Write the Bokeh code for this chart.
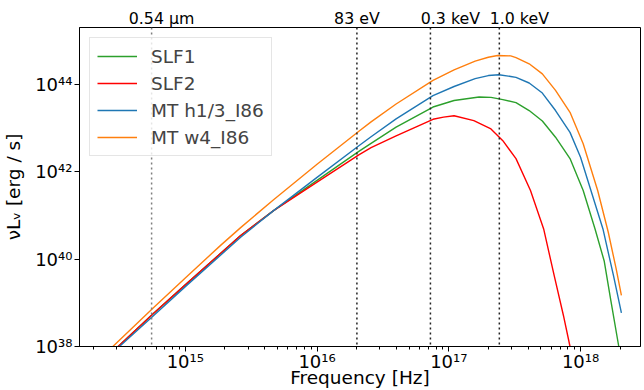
import numpy as np
from math import log10
from bokeh.plotting import figure
from bokeh.models import (FixedTicker, CustomJSTickFormatter, Span, LogAxis,
                          Legend, LegendItem, Range1d)
from bokeh.embed import file_html
from bokeh.resources import INLINE

# ---------------- data (log10 frequency [Hz], log10 nuL_nu [erg/s]) ----------------
lnu_slf1 = [14.30, 14.49, 14.76, 15.00, 15.42, 15.67, 16.00, 16.32, 16.41, 16.60,
            16.88, 17.04, 17.23, 17.32, 17.41, 17.51, 17.61, 17.71, 17.81, 17.92,
            18.02, 18.11, 18.18, 18.23, 18.29, 18.31]
lL_slf1 = [37.45, 38.00, 38.76, 39.41, 40.54, 41.11, 41.80, 42.47, 42.65, 43.02,
           43.48, 43.63, 43.71, 43.70, 43.65, 43.58, 43.40, 43.16, 42.79, 42.30,
           41.57, 40.69, 39.95, 39.05, 38.00, 37.70]

lnu_slf2 = [14.30, 14.49, 14.76, 15.00, 15.42, 15.67, 16.00, 16.32, 16.41, 16.60,
            16.88, 16.96, 17.04, 17.19, 17.32, 17.41, 17.51, 17.62, 17.72, 17.80,
            17.87, 17.92, 18.00]
lL_slf2 = [37.46, 38.00, 38.76, 39.41, 40.54, 41.11, 41.76, 42.39, 42.55, 42.82,
           43.20, 43.25, 43.28, 43.17, 42.98, 42.71, 42.30, 41.57, 40.69, 39.62,
           38.71, 38.00, 36.80]

lnu_h13 = [14.30, 14.50, 14.76, 15.00, 15.42, 15.67, 16.00, 16.32, 16.41, 16.60,
           16.88, 17.04, 17.20, 17.30, 17.38, 17.47, 17.51, 17.61, 17.71, 17.81,
           17.92, 18.00, 18.09, 18.17, 18.25, 18.31]
lL_h13 = [37.43, 38.00, 38.71, 39.37, 40.50, 41.11, 41.87, 42.60, 42.80, 43.21,
          43.74, 43.95, 44.13, 44.20, 44.22, 44.18, 44.16, 44.03, 43.80, 43.40,
          42.90, 42.33, 41.46, 40.69, 39.62, 38.77]

lnu_w4 = [14.30, 14.45, 14.76, 15.00, 15.27, 15.42, 15.67, 16.00, 16.32, 16.41,
          16.60, 16.88, 17.04, 17.20, 17.30, 17.37, 17.47, 17.51, 17.61, 17.71,
          17.81, 17.92, 18.02, 18.13, 18.21, 18.27, 18.31]
lL_w4 = [37.55, 38.00, 38.89, 39.57, 40.32, 40.72, 41.36, 42.17, 42.93, 43.14,
         43.55, 44.09, 44.33, 44.53, 44.62, 44.66, 44.65, 44.61, 44.47, 44.24,
         43.86, 43.36, 42.64, 41.57, 40.62, 39.78, 39.17]

series_names = ["SLF1", "SLF2", "MT h1/3_I86", "MT w4_I86"]
series_colors = ["#2ca02c", "#ff0000", "#1f77b4", "#ff7f0e"]
series_x = [lnu_slf1, lnu_slf2, lnu_h13, lnu_w4]
series_y = [lL_slf1, lL_slf2, lL_h13, lL_w4]

# reference frequencies (Hz) and their labels
line_freqs = [5.55e14, 2.007e16, 7.254e16, 2.418e17]
line_labels = ["0.54 \u03bcm", "83 eV", "0.3 keV", "1.0 keV"]
line_colors = ["#7f7f7f", "#222222", "#222222", "#222222"]
label_center_dx = [10, 0, 20, 20]   # px shift of each top label's centre from its line

x_ticks = [1e15, 1e16, 1e17, 1e18]
y_ticks = [1e38, 1e40, 1e42, 1e44]

# ---------------- layout ----------------
W, H = 644, 390
FL, FR, FT, FB = 79, 640, 27, 346
x_lo, x_hi = 14.197, 18.455
y_lo, y_hi = 38.0, 45.30
FONT = "DejaVu Sans"


def px_of(f):
    return FL + (log10(f) - x_lo) / (x_hi - x_lo) * (FR - FL)


def sx(X):
    return 10 ** (x_lo + (X - FL) / (FR - FL) * (x_hi - x_lo))


p = figure(width=W, height=H, x_axis_type="log", y_axis_type="log",
           x_range=Range1d(10 ** x_lo, 10 ** x_hi),
           y_range=Range1d(10 ** y_lo, 10 ** y_hi),
           output_backend="svg", toolbar_location=None,
           min_border_left=FL, min_border_right=W - FR,
           min_border_top=FT, min_border_bottom=H - FB)

p.background_fill_color = "white"
p.border_fill_color = "white"
p.xgrid.visible = False
p.ygrid.visible = False
p.outline_line_color = "black"
p.outline_line_width = 1
p.outline_line_alpha = 1

sup_fmt = CustomJSTickFormatter(code="""
const s = {'0':'\u2070','1':'\u00b9','2':'\u00b2','3':'\u00b3','4':'\u2074',
           '5':'\u2075','6':'\u2076','7':'\u2077','8':'\u2078','9':'\u2079','-':'\u207b'};
const e = Math.round(Math.log10(tick));
return '10' + String(e).split('').map(c => s[c]).join('');
""")

minor = [m * 10.0 ** n for n in range(14, 19) for m in range(2, 10)]
p.xaxis.ticker = FixedTicker(ticks=x_ticks, minor_ticks=minor)
p.yaxis.ticker = FixedTicker(ticks=y_ticks, minor_ticks=[])
for ax in (p.xaxis[0], p.yaxis[0]):
    ax.formatter = sup_fmt
    ax.axis_line_color = "black"
    ax.major_tick_line_color = "black"
    ax.minor_tick_line_color = "black"
    ax.major_tick_out = 5
    ax.major_tick_in = 0
    ax.minor_tick_out = 3
    ax.minor_tick_in = 0
    ax.major_label_text_font = FONT
    ax.major_label_text_font_size = "18px"
    ax.major_label_text_color = "black"
    ax.major_label_standoff = 2
    ax.axis_label_text_font = FONT
    ax.axis_label_text_font_size = "18.5px"
    ax.axis_label_text_font_style = "normal"
    ax.axis_label_text_color = "black"
p.yaxis.minor_tick_line_color = None
p.xaxis.axis_label = "Frequency [Hz]"
p.xaxis.major_label_standoff = -1
p.xaxis.axis_label_standoff = -8
p.yaxis.axis_label = "\u03bdL\u1d65 [erg / s]"
p.yaxis.axis_label_standoff = 8

# labels of the reference lines, as an axis above the frame
centers = [sx(px_of(f) + d) for f, d in zip(line_freqs, label_center_dx)]
top_axis = LogAxis(ticker=FixedTicker(ticks=centers, minor_ticks=[]),
                   formatter=CustomJSTickFormatter(args=dict(labels=line_labels),
                                                   code="return labels[index];"))
top_axis.axis_line_color = None
top_axis.major_tick_line_color = None
top_axis.minor_tick_line_color = None
top_axis.major_tick_out = 0
top_axis.major_tick_in = 0
top_axis.major_label_standoff = 0
top_axis.major_label_text_font = FONT
top_axis.major_label_text_font_size = "15.8px"
top_axis.major_label_text_color = "black"
p.add_layout(top_axis, "above")

# vertical reference lines
for f, c in zip(line_freqs, line_colors):
    p.add_layout(Span(location=f, dimension="height", line_color=c,
                      line_dash="2 3", line_width=1.5))

# curves
renderers = []
for lx, ly, col in zip(series_x, series_y, series_colors):
    r = p.line(10 ** np.array(lx), 10 ** np.array(ly), line_color=col, line_width=1.4)
    renderers.append(r)

legend = Legend(items=[LegendItem(label=n, renderers=[r]) for n, r in zip(series_names, renderers)],
                location="top_left", margin=10, padding=7, spacing=5,
                glyph_width=40, glyph_height=22, label_height=22, label_standoff=14,
                label_text_font=FONT, label_text_font_size="18.5px",
                border_line_color="#cccccc", border_line_width=1,
                background_fill_color="white", background_fill_alpha=0.8)
p.add_layout(legend)

open("out.html", "w").write(file_html(p, INLINE))
